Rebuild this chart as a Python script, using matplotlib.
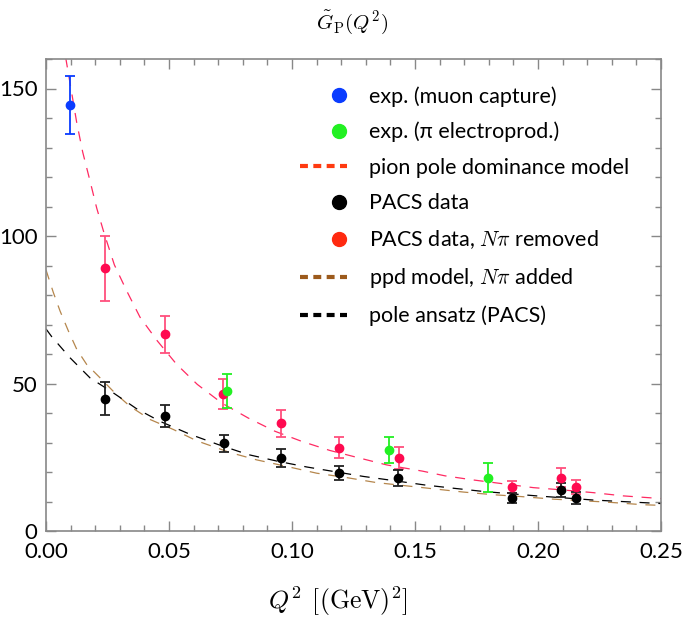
import matplotlib
matplotlib.use("Agg")
import matplotlib.pyplot as plt
from matplotlib.lines import Line2D
from matplotlib.legend_handler import HandlerBase
from matplotlib.ticker import MultipleLocator, FormatStrFormatter

plt.rcParams["font.family"] = ["Lato", "DejaVu Sans"]
plt.rcParams["mathtext.fontset"] = "cm"

# experimental points
muon_x = [0.0098]
muon_y = [144.3]
muon_err = [9.8]

elec_x = [0.0734, 0.1394, 0.1797]
elec_y = [47.4, 27.4, 18.0]
elec_err = [5.8, 4.5, 4.9]

# PACS lattice points
pacs_x = [0.0241, 0.0482, 0.0725, 0.0954, 0.1192, 0.1432, 0.1893, 0.2095, 0.2153]
pacs_y = [44.9, 39.0, 29.8, 24.7, 19.7, 18.0, 11.2, 13.9, 11.3]
pacs_err = [5.6, 3.6, 2.9, 3.0, 2.4, 2.6, 1.6, 2.3, 2.0]

removed_x = [0.0241, 0.0482, 0.0721, 0.0954, 0.1192, 0.1435, 0.1893, 0.2095, 0.2153]
removed_y = [89.1, 66.7, 46.5, 36.5, 28.2, 24.8, 14.9, 18.1, 15.0]
removed_err = [11.0, 6.3, 5.0, 4.6, 3.5, 3.7, 2.0, 3.2, 2.3]

# curves
ppd_x = [0.0080, 0.0125, 0.0149, 0.0180, 0.0206, 0.0236, 0.0278, 0.0328, 0.0382, 0.0452,
         0.0531, 0.0615, 0.0714, 0.0822, 0.0931, 0.1039, 0.1154, 0.1276, 0.1385, 0.1530,
         0.1622, 0.1737, 0.1859, 0.1981, 0.2103, 0.2225, 0.2347, 0.2500]
ppd_y = [160.5, 138.4, 128.5, 118.3, 109.5, 101.0, 90.2, 81.4, 72.5, 64.5,
         56.5, 49.7, 43.4, 38.3, 33.8, 30.4, 27.3, 24.7, 22.4, 20.3,
         18.7, 17.3, 16.0, 14.7, 13.9, 13.0, 11.9, 11.0]

pole_x = [0.0, 0.0023, 0.0098, 0.0179, 0.0274, 0.0369, 0.0463, 0.0585, 0.0700, 0.0822,
          0.0944, 0.1060, 0.1182, 0.1290, 0.1412, 0.1540, 0.1656, 0.1778, 0.1995, 0.2225, 0.2500]
pole_y = [68.5, 65.9, 58.7, 51.9, 46.8, 41.4, 37.2, 32.8, 29.3, 25.9,
          23.6, 21.7, 20.0, 18.5, 17.1, 15.6, 14.5, 13.4, 11.9, 10.5, 9.3]

added_x = [0.0, 0.0030, 0.0057, 0.0091, 0.0125, 0.0165, 0.0220, 0.0280, 0.0341, 0.0423,
           0.0518, 0.0612, 0.0748, 0.0857, 0.0978, 0.1100, 0.1222, 0.1344, 0.1466, 0.1575,
           0.1697, 0.1818, 0.1927, 0.2062, 0.2279, 0.2428, 0.2500]
added_y = [88.5, 80.8, 74.6, 67.8, 61.6, 56.5, 51.9, 46.8, 42.3, 37.8,
           34.4, 30.6, 26.6, 24.1, 21.9, 19.6, 18.1, 16.4, 15.3, 14.3,
           13.2, 12.3, 11.7, 10.8, 9.8, 8.9, 8.7]

legend_labels = ["exp. (muon capture)", "exp. (\u03c0 electroprod.)", "pion pole dominance model",
                 "PACS data", "PACS data, $N\\pi$ removed", "ppd model, $N\\pi$ added",
                 "pole ansatz (PACS)"]


class RightMarker(HandlerBase):
    # single dot sitting near the right end of the handle box
    def create_artists(self, legend, orig_handle, xdescent, ydescent, width, height, fontsize, trans):
        dot = Line2D([-xdescent + 0.83 * width], [(height - ydescent) / 2], ls="none", marker="o",
                     ms=orig_handle.get_markersize(), color=orig_handle.get_color())
        dot.set_transform(trans)
        return [dot]


fig = plt.figure(figsize=(6.85, 6.17), dpi=100)
ax = fig.add_axes([46 / 685, 86 / 617, 615 / 685, 472 / 617])

ax.plot(ppd_x, ppd_y, color="#ff2a62", lw=0.9, dashes=(8, 7))
ax.plot(added_x, added_y, color="#b5864c", lw=0.9, dashes=(8, 7))
ax.plot(pole_x, pole_y, color="black", lw=0.9, dashes=(8, 7))

eb = dict(fmt="o", ms=6, capsize=3.5, elinewidth=1.3, capthick=1.3)
ax.errorbar(removed_x, removed_y, yerr=removed_err, color="#ff0a50", ecolor="#ff4f7d", **eb)
ax.errorbar(pacs_x, pacs_y, yerr=pacs_err, color="black", ecolor="#222222", **eb)
ax.errorbar(elec_x, elec_y, yerr=elec_err, color="#22f022", ecolor="#22f022", **eb)
ax.errorbar(muon_x, muon_y, yerr=muon_err, color="#0a3cff", ecolor="#0a3cff", **eb)

ax.set_xlim(0, 0.25)
ax.set_ylim(0, 160)
ax.xaxis.set_major_locator(MultipleLocator(0.05))
ax.xaxis.set_minor_locator(MultipleLocator(0.01))
ax.yaxis.set_major_locator(MultipleLocator(50))
ax.yaxis.set_minor_locator(MultipleLocator(10))
ax.xaxis.set_major_formatter(FormatStrFormatter("%.2f"))
ax.tick_params(which="both", direction="in", top=True, right=True, color="#888888",
               labelsize=16, width=1)
ax.tick_params(which="major", length=7, pad=6)
ax.tick_params(axis="x", which="major", pad=8)
ax.tick_params(which="minor", length=4)
for s in ax.spines.values():
    s.set_color("#888888")
    s.set_linewidth(1.2)

handles = [
    Line2D([], [], ls="none", marker="o", ms=10, color="#0a3cff"),
    Line2D([], [], ls="none", marker="o", ms=10, color="#22f022"),
    Line2D([], [], color="#ff3a10", lw=3, dashes=(1.9, 1.3)),
    Line2D([], [], ls="none", marker="o", ms=10, color="black"),
    Line2D([], [], ls="none", marker="o", ms=10, color="#ff2a10"),
    Line2D([], [], color="#9c5a1c", lw=3, dashes=(1.9, 1.3)),
    Line2D([], [], color="black", lw=3, dashes=(1.9, 1.3)),
]
hmap = {h: RightMarker() for h in handles if h.get_linestyle() == "None"}
ax.legend(handles, legend_labels, handler_map=hmap, frameon=False, fontsize=15.5,
          loc="upper left", bbox_to_anchor=(300 / 685, 1 - 86 / 617),
          bbox_transform=fig.transFigure, handlelength=2.2, handletextpad=1.0,
          labelspacing=0.71, borderpad=0, borderaxespad=0)

fig.text(352 / 685, 1 - 22 / 617, r"$\tilde{G}_\mathrm{P}(Q^2)$", ha="center", va="center", fontsize=15)
fig.text(338 / 685, 1 - 601 / 617, r"$Q^2\;\,[(\mathrm{GeV})^2]$", ha="center", va="center", fontsize=18.5)

fig.savefig("out.png", dpi=100)
